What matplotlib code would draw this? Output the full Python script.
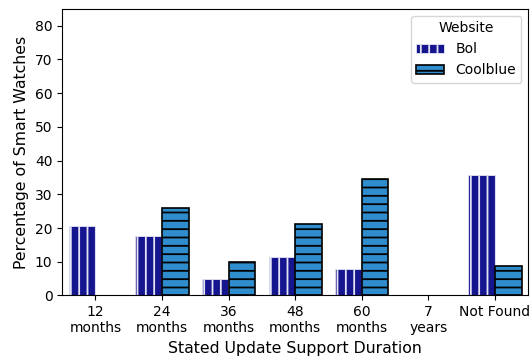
import numpy as np
import matplotlib.pyplot as plt

categories = ['12\nmonths', '24\nmonths', '36\nmonths', '48\nmonths', '60\nmonths', '7\nyears', 'Not Found']
bol = [20.6, 17.7, 4.9, 11.4, 7.9, 0.0, 35.6]
coolblue = [0.0, 26.0, 10.0, 21.1, 34.6, 0.0, 8.6]

plt.rcParams['hatch.linewidth'] = 1.3
fig = plt.figure(figsize=(5.31, 3.56), dpi=100)
ax = fig.add_axes([0.117, 0.17, 0.878, 0.805])

x = np.arange(len(categories))
w = 0.4
# zero-valued bars are not drawn in the original
bol_h = np.where(np.array(bol) > 0, bol, np.nan)
cb_h = np.where(np.array(coolblue) > 0, coolblue, np.nan)
ax.bar(x - w/2, bol_h, width=w, color='#15158f', edgecolor='#e4e4f4', hatch='||', lw=0.6, label='Bol')
ax.bar(x + w/2, cb_h, width=w, color='#2f8dcd', edgecolor='black', hatch='--', lw=1.2, label='Coolblue')

ax.set_xticks(x)
ax.set_xticklabels(categories, fontsize=10)
ax.tick_params(axis='y', labelsize=10)
ax.set_xlim(-0.5, len(categories) - 0.5)
ax.set_ylim(0, 85)
ax.set_yticks(range(0, 81, 10))
ax.set_xlabel('Stated Update Support Duration', fontsize=11.3)
ax.set_ylabel('Percentage of Smart Watches', fontsize=11.3)
ax.legend(title='Website', loc='upper right', fontsize=10, title_fontsize=10)

fig.savefig('out.png', dpi=100)
